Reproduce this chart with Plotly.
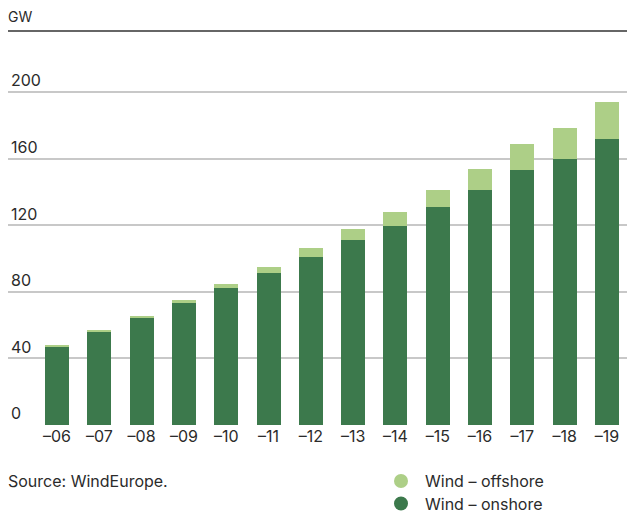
import plotly.graph_objects as go

years = ["–06", "–07", "–08", "–09", "–10", "–11", "–12", "–13", "–14", "–15", "–16", "–17", "–18", "–19"]
onshore = [47.0, 56.0, 64.4, 73.5, 82.4, 91.5, 101.1, 111.3, 119.8, 131.1, 141.3, 153.3, 160.0, 172.0]
offshore = [1.0, 1.2, 1.2, 1.8, 2.5, 3.6, 5.4, 6.6, 8.4, 9.9, 12.6, 15.6, 18.6, 22.2]
y_ticks = [0, 40, 80, 120, 160, 200]
unit_label = "GW"
source_text = "Source: WindEurope."
name_off = "Wind – offshore"
name_on = "Wind – onshore"

DARK = "#3c794c"
LIGHT = "#adcf87"
TXT = "#2b2b2b"
FONT = "Inter, Liberation Sans, Arial, sans-serif"

W, H = 627, 513
ML, MR, MT, MB = 8, 0, 31, 88
plot_w = W - ML - MR
plot_h = H - MT - MB
px_per = 66.6 / 40.0
ymax = plot_h / px_per


def px_x(px):
    return (px - ML) / plot_w


def px_y(py):
    return (MT + plot_h - py) / plot_h


fig = go.Figure()
fig.add_trace(go.Bar(x=years, y=onshore, marker=dict(color=DARK, line=dict(width=0)),
                     showlegend=False, name=name_on))
fig.add_trace(go.Bar(x=years, y=offshore, marker=dict(color=LIGHT, line=dict(width=0)),
                     showlegend=False, name=name_off))

# manual legend (circle symbols + text) below the chart
legend_items = [(name_off, LIGHT, 481.0), (name_on, DARK, 503.5)]
shapes = [dict(type="line", xref="paper", yref="paper", x0=0, x1=1, y0=1, y1=1,
               line=dict(color="#333333", width=1.5))]
annotations = [
    dict(text=unit_label, xref="paper", yref="paper", x=0, y=1, xanchor="left", yanchor="bottom",
         xshift=-2, yshift=4, showarrow=False, font=dict(size=14, color=TXT)),
    dict(text=source_text, xref="paper", yref="paper", x=0, y=px_y(481.0),
         xanchor="left", yanchor="middle", xshift=-2, showarrow=False, font=dict(size=16, color=TXT)),
]
for name, col, cy in legend_items:
    shapes.append(dict(type="circle", xref="paper", yref="paper", xsizemode="pixel", ysizemode="pixel",
                       xanchor=px_x(401), yanchor=px_y(cy), x0=-7, x1=7, y0=-7, y1=7,
                       fillcolor=col, line=dict(width=0)))
    annotations.append(dict(text=name, xref="paper", yref="paper", x=px_x(424), y=px_y(cy),
                            xanchor="left", yanchor="middle", showarrow=False, borderpad=0,
                            font=dict(size=16, color=TXT)))

fig.update_layout(
    width=W, height=H,
    margin=dict(l=ML, r=MR, t=MT, b=MB),
    paper_bgcolor="white", plot_bgcolor="white",
    barmode="stack", bargap=0.433,
    showlegend=False,
    font=dict(family=FONT, size=16, color=TXT),
    xaxis=dict(type="category", range=[-1.158, 13.473], showgrid=False, zeroline=False,
               showline=False, ticks="", tickfont=dict(size=16, color=TXT), fixedrange=True,
               automargin=False),
    yaxis=dict(range=[0, ymax], tickvals=y_ticks, ticktext=[str(v) for v in y_ticks],
               ticklabelposition="inside top", showgrid=True, gridcolor="#c8c8c8", gridwidth=1.5,
               zeroline=False, showline=False, ticks="", tickfont=dict(size=16, color=TXT),
               fixedrange=True, automargin=False),
    shapes=shapes,
    annotations=annotations,
)

fig.write_html("out.html")
